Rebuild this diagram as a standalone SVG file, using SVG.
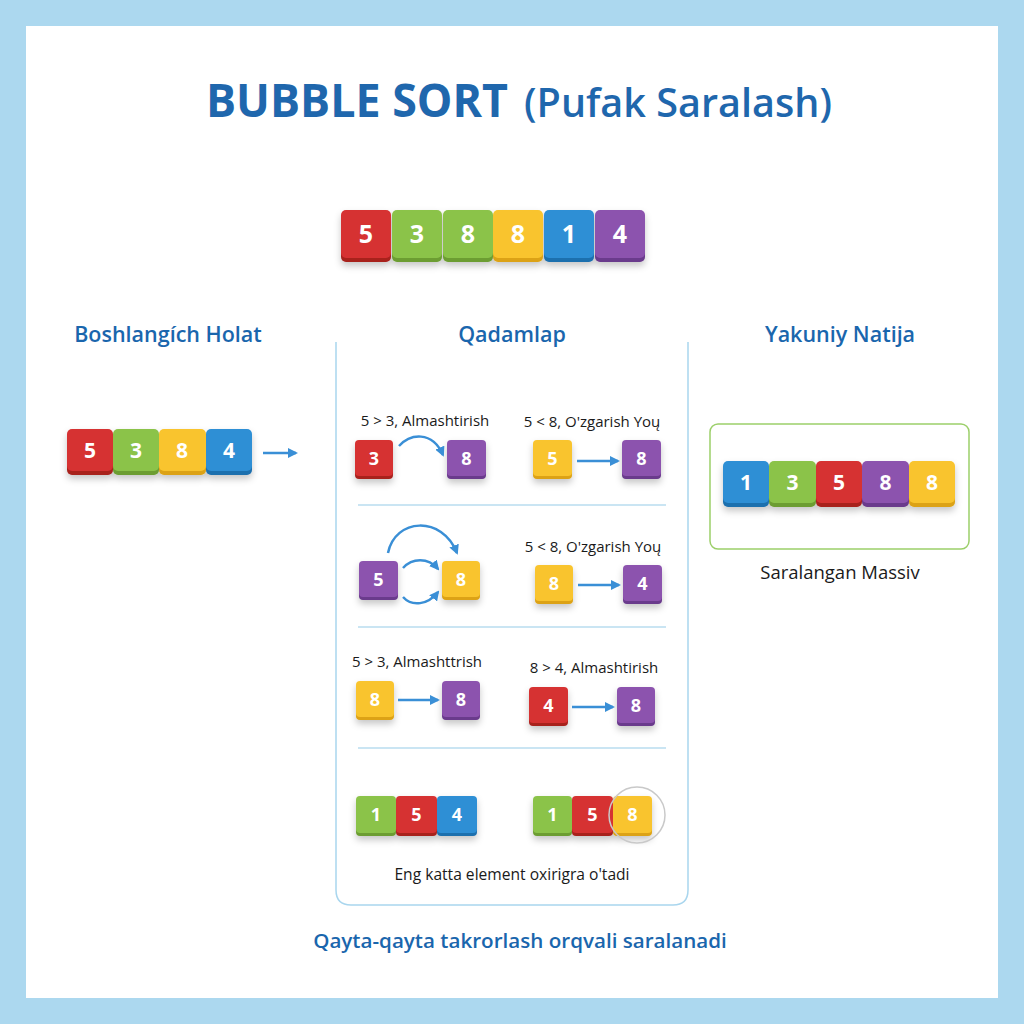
<svg xmlns="http://www.w3.org/2000/svg" width="1024" height="1024" viewBox="0 0 1024 1024">
<defs>
<filter id="sh" x="-30%" y="-30%" width="160%" height="180%">
<feDropShadow dx="0" dy="4" stdDeviation="3.5" flood-color="#000" flood-opacity="0.22"/>
</filter>
<marker id="ah" viewBox="0 0 10 10" refX="8" refY="5" markerWidth="4" markerHeight="4" orient="auto">
<path d="M0,0 L10,5 L0,10 z" fill="#3a8fd6"/>
</marker>
<style>
.bg{fill:#acd8ef}
.panel{fill:#ffffff}
.title{font-family:"Open Sans","Liberation Sans",sans-serif;fill:#1f67ad}
.h{font-family:"Open Sans","Liberation Sans",sans-serif;font-weight:600;font-size:21.5px;fill:#1a66ad;text-anchor:middle}
.lbl{font-family:"Open Sans","Liberation Sans",sans-serif;font-size:15px;fill:#1a1a1a;text-anchor:middle}
.num{font-family:"Open Sans","Liberation Sans",sans-serif;font-weight:700;fill:#ffffff;text-anchor:middle}
.n1{font-size:25px}
.n2{font-size:21px}
.n3{font-size:18px}
.r{fill:#d63031}.rd{fill:#a8221f}
.g{fill:#8bc34a}.gd{fill:#6c9d33}
.y{fill:#f9c42d}.yd{fill:#dca215}
.b{fill:#2d8fd5}.bd{fill:#1e6fae}
.p{fill:#8c52ae}.pd{fill:#6a3a8c}
.conn{fill:none;stroke:#3a8fd6;stroke-width:2.5;marker-end:url(#ah)}
.sep{stroke:#b9dcef;stroke-width:1.5}
.frame{fill:none;stroke:#a9d6ee;stroke-width:1.5}
</style>
</defs>
<rect class="bg" x="0" y="0" width="1024" height="1024"/>
<rect class="panel" x="26" y="26" width="972" height="972"/>

<text class="title" x="206" y="117" font-size="46" font-weight="700" textLength="302" lengthAdjust="spacingAndGlyphs">BUBBLE SORT</text>
<text class="title" x="524" y="117" font-size="40" font-weight="600" textLength="308" lengthAdjust="spacingAndGlyphs">(Pufak Saralash)</text>

<g id="top-array" filter="url(#sh)">
<rect class="rd" x="341" y="213" width="50" height="49" rx="5"/><rect class="r" x="341" y="210" width="50" height="48" rx="5"/>
<rect class="gd" x="392" y="213" width="50" height="49" rx="5"/><rect class="g" x="392" y="210" width="50" height="48" rx="5"/>
<rect class="gd" x="443" y="213" width="50" height="49" rx="5"/><rect class="g" x="443" y="210" width="50" height="48" rx="5"/>
<rect class="yd" x="493" y="213" width="50" height="49" rx="5"/><rect class="y" x="493" y="210" width="50" height="48" rx="5"/>
<rect class="bd" x="544" y="213" width="50" height="49" rx="5"/><rect class="b" x="544" y="210" width="50" height="48" rx="5"/>
<rect class="pd" x="595" y="213" width="50" height="49" rx="5"/><rect class="p" x="595" y="210" width="50" height="48" rx="5"/>
</g>
<g id="top-array-nums" class="num n1">
<text x="366" y="243">5</text><text x="417" y="243">3</text><text x="468" y="243">8</text><text x="518" y="243">8</text><text x="569" y="243">1</text><text x="620" y="243">4</text>
</g>

<text class="h" x="168" y="342">Boshlangích Holat</text>
<text class="h" x="512" y="342">Qadamlap</text>
<text class="h" x="840" y="342">Yakuniy Natija</text>

<g id="initial-state">
<g filter="url(#sh)">
<rect class="rd" x="67" y="432" width="46" height="43" rx="5"/><rect class="r" x="67" y="429" width="46" height="42" rx="5"/>
<rect class="gd" x="113" y="432" width="46" height="43" rx="5"/><rect class="g" x="113" y="429" width="46" height="42" rx="5"/>
<rect class="yd" x="159" y="432" width="47" height="43" rx="5"/><rect class="y" x="159" y="429" width="47" height="42" rx="5"/>
<rect class="bd" x="206" y="432" width="46" height="43" rx="5"/><rect class="b" x="206" y="429" width="46" height="42" rx="5"/>
</g>
<g class="num n2"><text x="90" y="458">5</text><text x="136" y="458">3</text><text x="182" y="458">8</text><text x="229" y="458">4</text></g>
</g>

<g id="steps-panel">
<path class="frame" d="M336,342 V890 Q336,905 351,905 H673 Q688,905 688,890 V342"/>
<line class="sep" x1="358" y1="505" x2="666" y2="505"/>
<line class="sep" x1="358" y1="627" x2="666" y2="627"/>
<line class="sep" x1="358" y1="748" x2="666" y2="748"/>
</g>

<g id="step1">
<text class="lbl" x="425" y="426">5 &gt; 3, Almashtirish</text>
<text class="lbl" x="592" y="427">5 &lt; 8, O'zgarish Yoų</text>
<g filter="url(#sh)">
<rect class="rd" x="355" y="443" width="38" height="36" rx="4"/><rect class="r" x="355" y="440" width="38" height="36" rx="4"/>
<rect class="pd" x="447" y="443" width="39" height="36" rx="4"/><rect class="p" x="447" y="440" width="39" height="36" rx="4"/>
<rect class="yd" x="533" y="443" width="39" height="36" rx="4"/><rect class="y" x="533" y="440" width="39" height="36" rx="4"/>
<rect class="pd" x="622" y="443" width="39" height="36" rx="4"/><rect class="p" x="622" y="440" width="39" height="36" rx="4"/>
</g>
<g class="num n3"><text x="374" y="465">3</text><text x="466.5" y="465">8</text><text x="552.5" y="465">5</text><text x="641.5" y="465">8</text></g>
</g>

<g id="step2">
<text class="lbl" x="593" y="552">5 &lt; 8, O'zgarish Yoų</text>
<g filter="url(#sh)">
<rect class="pd" x="359" y="564" width="39" height="36" rx="4"/><rect class="p" x="359" y="561" width="39" height="36" rx="4"/>
<rect class="yd" x="442" y="564" width="38" height="36" rx="4"/><rect class="y" x="442" y="561" width="38" height="36" rx="4"/>
<rect class="yd" x="535" y="568" width="38" height="36" rx="4"/><rect class="y" x="535" y="565" width="38" height="36" rx="4"/>
<rect class="pd" x="623" y="568" width="39" height="36" rx="4"/><rect class="p" x="623" y="565" width="39" height="36" rx="4"/>
</g>
<g class="num n3"><text x="378.5" y="586">5</text><text x="461" y="586">8</text><text x="554" y="590">8</text><text x="642.5" y="590">4</text></g>
</g>

<g id="step3">
<text class="lbl" x="417" y="667">5 &gt; 3, Almashttrish</text>
<text class="lbl" x="594" y="673">8 &gt; 4, Almashtirish</text>
<g filter="url(#sh)">
<rect class="yd" x="356" y="684" width="38" height="36" rx="4"/><rect class="y" x="356" y="681" width="38" height="36" rx="4"/>
<rect class="pd" x="442" y="684" width="38" height="36" rx="4"/><rect class="p" x="442" y="681" width="38" height="36" rx="4"/>
<rect class="rd" x="529" y="690" width="39" height="36" rx="4"/><rect class="r" x="529" y="687" width="39" height="36" rx="4"/>
<rect class="pd" x="617" y="690" width="38" height="36" rx="4"/><rect class="p" x="617" y="687" width="38" height="36" rx="4"/>
</g>
<g class="num n3"><text x="375" y="706">8</text><text x="461" y="706">8</text><text x="548.5" y="712">4</text><text x="636" y="712">8</text></g>
</g>

<g id="step4">
<g filter="url(#sh)">
<rect class="gd" x="356" y="799" width="40" height="37" rx="4"/><rect class="g" x="356" y="796" width="40" height="37" rx="4"/>
<rect class="rd" x="396" y="799" width="41" height="37" rx="4"/><rect class="r" x="396" y="796" width="41" height="37" rx="4"/>
<rect class="bd" x="437" y="799" width="40" height="37" rx="4"/><rect class="b" x="437" y="796" width="40" height="37" rx="4"/>
<rect class="gd" x="533" y="799" width="39" height="37" rx="4"/><rect class="g" x="533" y="796" width="39" height="37" rx="4"/>
<rect class="rd" x="572" y="799" width="41" height="37" rx="4"/><rect class="r" x="572" y="796" width="41" height="37" rx="4"/>
<rect class="yd" x="613" y="799" width="39" height="37" rx="4"/><rect class="y" x="613" y="796" width="39" height="37" rx="4"/>
</g>
<circle cx="637" cy="815" r="28" fill="none" stroke="#c9c9c9" stroke-width="1.5"/>
<g class="num n3"><text x="376" y="821">1</text><text x="416.5" y="821">5</text><text x="457" y="821">4</text><text x="552.5" y="821">1</text><text x="592.5" y="821">5</text><text x="632.5" y="821">8</text></g>
<text class="lbl" x="512" y="880" style="font-size:15.6px">Eng katta element oxirigra o'tadi</text>
</g>

<g id="final-result">
<rect x="710" y="424" width="259" height="125" rx="8" fill="none" stroke="#9ccf6a" stroke-width="1.5"/>
<g filter="url(#sh)">
<rect class="bd" x="723" y="464" width="46" height="43" rx="5"/><rect class="b" x="723" y="461" width="46" height="42" rx="5"/>
<rect class="gd" x="769" y="464" width="47" height="43" rx="5"/><rect class="g" x="769" y="461" width="47" height="42" rx="5"/>
<rect class="rd" x="816" y="464" width="46" height="43" rx="5"/><rect class="r" x="816" y="461" width="46" height="42" rx="5"/>
<rect class="pd" x="862" y="464" width="47" height="43" rx="5"/><rect class="p" x="862" y="461" width="47" height="42" rx="5"/>
<rect class="yd" x="909" y="464" width="46" height="43" rx="5"/><rect class="y" x="909" y="461" width="46" height="42" rx="5"/>
</g>
<g class="num n2"><text x="746" y="490">1</text><text x="792.5" y="490">3</text><text x="839" y="490">5</text><text x="885.5" y="490">8</text><text x="932" y="490">8</text></g>
<text class="lbl" x="840" y="579" style="font-size:18.5px">Saralangan Massiv</text>
</g>

<g id="connectors">
<path class="conn" d="M263,453 H296"/>
<path class="conn" d="M399,446 C410,434 432,430 443,455"/>
<path class="conn" d="M577,461 H618"/>
<path class="conn" d="M388,553 C395,518 442,515 457,553"/>
<path class="conn" d="M403,568 C412,558 428,557 438,569"/>
<path class="conn" d="M403,597 C412,607 428,605 438,592"/>
<path class="conn" d="M578,585 H619"/>
<path class="conn" d="M398,700 H438"/>
<path class="conn" d="M572,707 H613"/>
</g>

<text class="h" x="520" y="948" style="font-size:20.6px">Qayta-qayta takrorlash orqvali saralanadi</text>
</svg>
